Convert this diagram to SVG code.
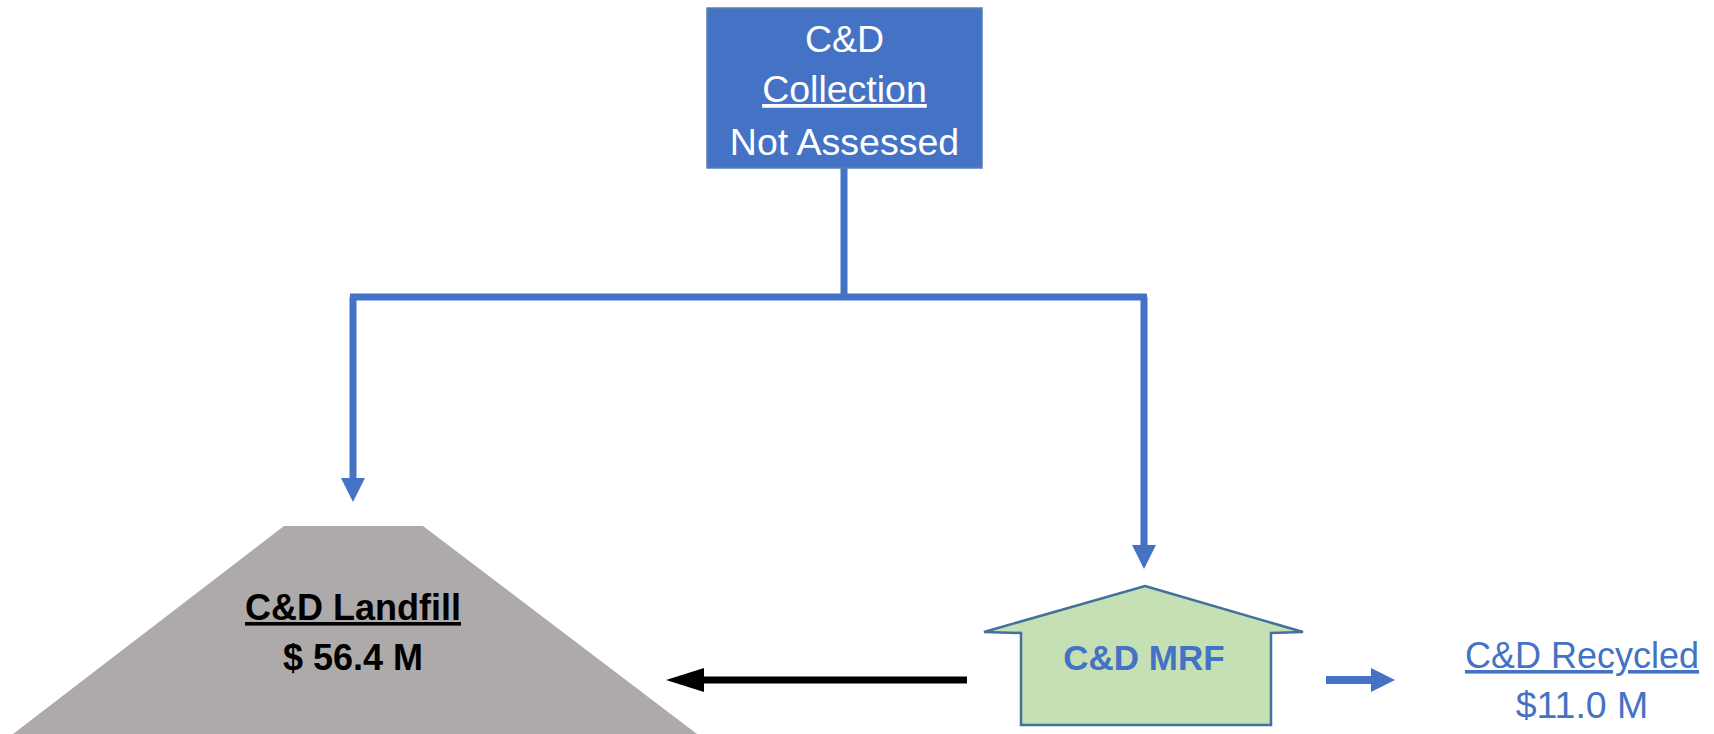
<svg xmlns="http://www.w3.org/2000/svg" width="1714" height="734" viewBox="0 0 1714 734">
<style>
.t{font-family:"Liberation Sans",Arial,sans-serif;text-anchor:middle}
.w{fill:#ffffff;font-size:37.5px}
.b{fill:#000000;font-size:36px;font-weight:bold}
.blue{fill:#4472C4}
.u{text-decoration:underline}
.conn{stroke:#4472C4;stroke-width:7;fill:none}
</style>
<defs>
<marker id="bh" markerUnits="userSpaceOnUse" markerWidth="24" markerHeight="24" viewBox="0 0 24 24" refX="1" refY="12" orient="auto">
<path d="M0,0 L24,12 L0,24 z" fill="#4472C4"/>
</marker>
<marker id="kh" markerUnits="userSpaceOnUse" markerWidth="38" markerHeight="24" viewBox="0 0 38 24" refX="1" refY="12" orient="auto">
<path d="M0,0 L38,12 L0,24 z" fill="#000000"/>
</marker>
</defs>
<rect width="1714" height="734" fill="#ffffff"/>
<g id="connectors">
<path class="conn" d="M844,168 L844,297"/>
<path class="conn" d="M350,297 L1147,297"/>
<path class="conn" d="M353,297 L353,479" marker-end="url(#bh)"/>
<path class="conn" d="M1144,297 L1144,546" marker-end="url(#bh)"/>
<path d="M967,680 L703,680" stroke="#000000" stroke-width="7" marker-end="url(#kh)"/>
<path d="M1326,680 L1372,680" stroke="#4472C4" stroke-width="8" marker-end="url(#bh)"/>
</g>
<g id="collection">
<rect x="707" y="8" width="275" height="160" fill="#4472C4" stroke="#5B7FB5" stroke-width="1.5"/>
<text class="t w" x="844.5" y="52">C&amp;D</text>
<text class="t w u" x="844.5" y="102">Collection</text>
<text class="t w" x="844.5" y="155">Not Assessed</text>
</g>
<g id="landfill">
<polygon points="284,526 423,526 697,734 13,734" fill="#AEAAAA"/>
<text class="t b u" x="353" y="620">C&amp;D Landfill</text>
<text class="t b" x="353" y="670">$ 56.4 M</text>
</g>
<g id="mrf">
<polygon points="1145,586 1303,632 1271,633 1271,725 1021,725 1021,633 984,632" fill="#C5E0B4" stroke="#41719C" stroke-width="2.5" stroke-linejoin="miter"/>
<text class="t blue" x="1144" y="670" font-size="35" font-weight="bold">C&amp;D MRF</text>
</g>
<g id="recycled">
<text class="t blue u" x="1582" y="668" font-size="36">C&amp;D Recycled</text>
<text class="t blue" x="1582" y="718" font-size="37.5">$11.0 M</text>
</g>
</svg>
